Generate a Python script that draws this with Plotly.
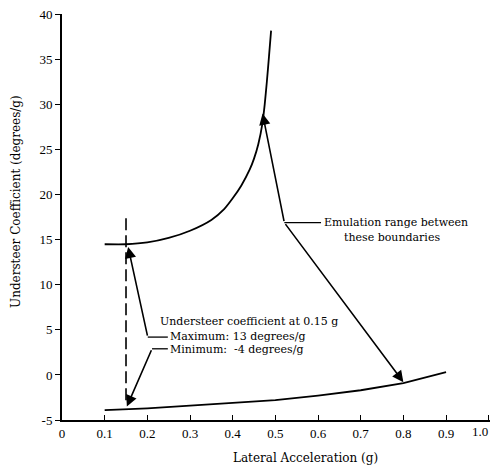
import plotly.graph_objects as go

# --- data ---
upper_x = [0.10, 0.15, 0.20, 0.25, 0.30, 0.35, 0.38, 0.40, 0.42, 0.44, 0.45, 0.46, 0.47, 0.475, 0.48, 0.485, 0.49]
upper_y = [14.5, 14.5, 14.7, 15.2, 16.0, 17.2, 18.4, 19.6, 21.0, 22.8, 24.0, 25.6, 28.0, 30.0, 32.5, 35.3, 38.2]

lower_x = [0.10, 0.15, 0.20, 0.30, 0.40, 0.50, 0.60, 0.70, 0.80, 0.85, 0.90]
lower_y = [-3.9, -3.8, -3.7, -3.4, -3.1, -2.8, -2.3, -1.7, -0.9, -0.3, 0.3]

marker_x = [0.15, 0.15]
marker_y = [17.4, -3.2]

x_ticks = [0, 0.1, 0.2, 0.3, 0.4, 0.5, 0.6, 0.7, 0.8, 0.9, 1.0]
x_tick_labels = ["0", "0.1", "0.2", "0.3", "0.4", "0.5", "0.6", "0.7", "0.8", "0.9", ""]
x_last_label = "1.0"   # drawn right-anchored so it stays inside the page
y_ticks = [-5, 0, 5, 10, 15, 20, 25, 30, 35, 40]
y_tick_labels = ["-5", "0", "5", "10", "15", "20", "25", "30", "35", "40"]

FONT = "Liberation Serif"
WIDE = "DejaVu Serif"
INK = "black"

fig = go.Figure()
fig.add_trace(go.Scatter(x=upper_x, y=upper_y, mode="lines",
                         line=dict(color=INK, width=1.8, shape="spline", smoothing=0.6), hoverinfo="skip"))
fig.add_trace(go.Scatter(x=lower_x, y=lower_y, mode="lines",
                         line=dict(color=INK, width=1.8), hoverinfo="skip"))
fig.add_trace(go.Scatter(x=marker_x, y=marker_y, mode="lines",
                         line=dict(color=INK, width=1.6, dash="12px,5px"), hoverinfo="skip"))

# leader lines (horizontal parts)
leaders = [
    ([0.201, 0.248], [4.2, 4.2]),
    ([0.211, 0.248], [2.9, 2.9]),
    ([0.521, 0.607], [16.9, 16.9]),
]
for lx, ly in leaders:
    fig.add_trace(go.Scatter(x=lx, y=ly, mode="lines",
                             line=dict(color=INK, width=1.3), hoverinfo="skip"))

# arrows: (tip_x, tip_y, tail_x, tail_y)
arrows = [
    (0.155, 14.2, 0.201, 4.2),
    (0.152, -3.5, 0.211, 2.9),
    (0.470, 29.0, 0.521, 16.9),
    (0.800, -0.8, 0.521, 16.9),
]
for tx, ty, ax, ay in arrows:
    fig.add_annotation(x=tx, y=ty, ax=ax, ay=ay, xref="x", yref="y", axref="x", ayref="y",
                       text="", showarrow=True, arrowhead=2, arrowsize=1.4, arrowwidth=1.6,
                       arrowcolor=INK)

texts = [
    (0.225, 5.9, "Understeer coefficient at 0.15 g"),
    (0.248, 4.3, "Maximum: 13 degrees/g"),
    (0.248, 2.8, "Minimum:  -4 degrees/g"),
    (0.609, 16.9, "Emulation range between"),
]
for tx, ty, t in texts:
    fig.add_annotation(x=tx, y=ty, xref="x", yref="y", text=t, showarrow=False,
                       xanchor="left", yanchor="middle",
                       font=dict(family=WIDE, size=11, color=INK))
fig.add_annotation(x=0.656, y=15.3, xref="x", yref="y", text="these boundaries", showarrow=False,
                   xanchor="left", yanchor="middle", font=dict(family=WIDE, size=11, color=INK))

# last x tick label
fig.add_annotation(x=1.0, y=0, xref="x", yref="paper", text=x_last_label, showarrow=False,
                   xanchor="right", yanchor="top", yshift=-2, xshift=1,
                   font=dict(family=FONT, size=13, color=INK))

# axis titles
fig.add_annotation(x=-0.108, y=0.539, xref="paper", yref="paper",
                   xanchor="center", yanchor="middle",
                   text="Understeer Coefficient (degrees/g)", textangle=-90, showarrow=False,
                   font=dict(family=WIDE, size=12, color=INK))
fig.add_annotation(x=0.57, y=-0.094, xref="paper", yref="paper",
                   xanchor="center", yanchor="middle",
                   text="Lateral Acceleration (g)", showarrow=False,
                   font=dict(family=WIDE, size=12, color=INK))

# page has an 8px body margin; size the figure so the plot area lands where the reference has it
fig.update_layout(
    width=490, height=458,
    margin=dict(l=54, r=8, t=6, b=46, autoexpand=False),
    paper_bgcolor="white", plot_bgcolor="white",
    showlegend=False,
    font=dict(family=FONT, size=13, color=INK),
)
fig.update_xaxes(range=[0, 1.003], tickvals=x_ticks, ticktext=x_tick_labels,
                 showgrid=False, zeroline=False, showline=True, linecolor=INK, linewidth=2,
                 ticks="inside", ticklen=5, tickwidth=1.2, tickcolor=INK,
                 ticklabeloverflow="allow", automargin=False,
                 tickfont=dict(family=FONT, size=13, color=INK))
fig.update_yaxes(range=[-5, 40.05], tickvals=y_ticks, ticktext=y_tick_labels,
                 showgrid=False, zeroline=False, showline=True, linecolor=INK, linewidth=2,
                 ticks="outside", ticklen=5, tickwidth=1.2, tickcolor=INK,
                 ticklabeloverflow="allow", automargin=False,
                 tickfont=dict(family=FONT, size=13, color=INK))

fig.write_html("out.html")
